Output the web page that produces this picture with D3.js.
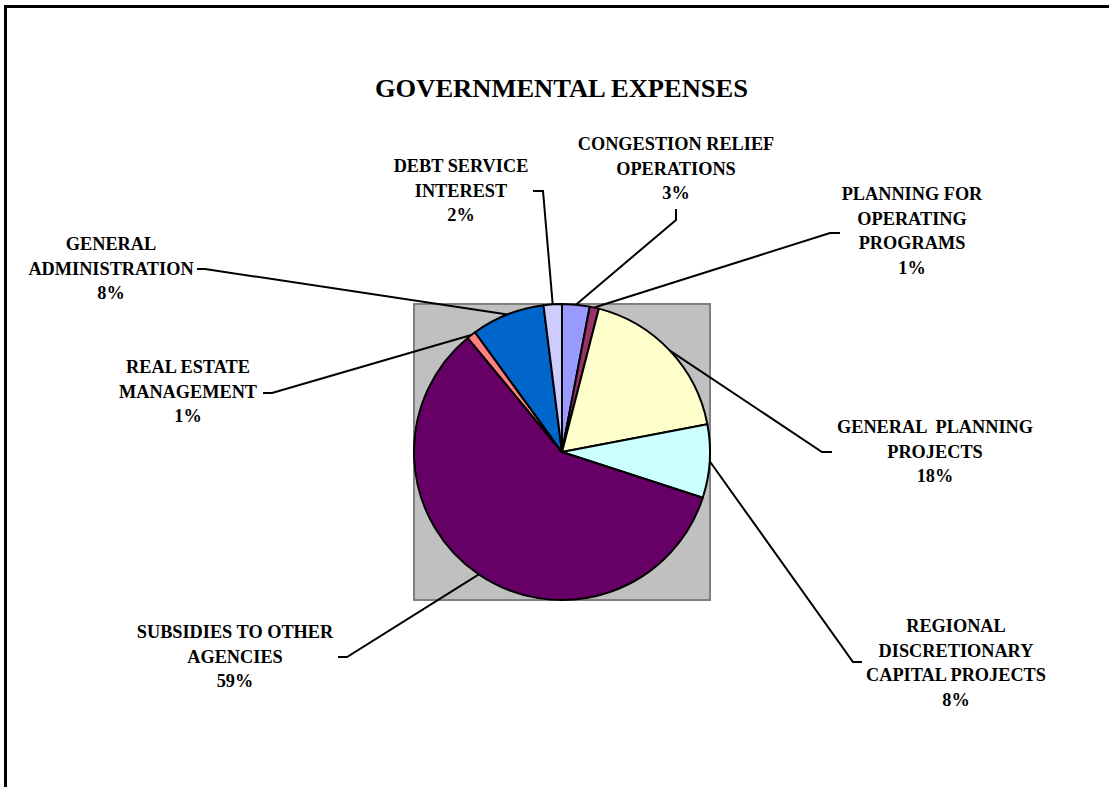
<!DOCTYPE html>
<html>
<head>
<meta charset="utf-8">
<script src="https://cdnjs.cloudflare.com/ajax/libs/d3/7.8.5/d3.min.js"></script>
<style>
  html, body { margin: 0; padding: 0; background: #ffffff; }
  svg { display: block; }
  text { font-family: "Liberation Serif", "Times New Roman", serif; font-weight: bold; fill: #000; }
</style>
</head>
<body>
<svg id="chart" width="1109" height="787"></svg>
<script>
// Governmental expenses, share of total by category (clockwise from 12 o'clock)
const categories = [
  ["CONGESTION RELIEF", "OPERATIONS"],
  ["PLANNING FOR", "OPERATING", "PROGRAMS"],
  ["GENERAL  PLANNING", "PROJECTS"],
  ["REGIONAL", "DISCRETIONARY", "CAPITAL PROJECTS"],
  ["SUBSIDIES TO OTHER", "AGENCIES"],
  ["REAL ESTATE", "MANAGEMENT"],
  ["GENERAL", "ADMINISTRATION"],
  ["DEBT SERVICE", "INTEREST"]
];
const percentValues = [3, 1, 18, 8, 59, 1, 8, 2];
const sliceColors = ["#9999FF", "#993366", "#FFFFCC", "#CCFFFF", "#660066", "#FF8080", "#0066CC", "#CCCCFF"];
const chartTitle = "GOVERNMENTAL EXPENSES";

// Label placement: text centre x, first baseline y, leader elbow and leader end
const labelLayout = [
  { x: 676, y: 150, elbow: [676, 220], end: [676, 209] },
  { x: 912, y: 200, elbow: [830, 233], end: [840, 233] },
  { x: 935, y: 433, elbow: [822, 452], end: [832, 452] },
  { x: 956, y: 632, elbow: [853, 662], end: [862, 662] },
  { x: 235, y: 638, elbow: [347, 657], end: [338, 657] },
  { x: 188, y: 373, elbow: [272, 393], end: [263, 393] },
  { x: 111, y: 250, elbow: [205, 269], end: [197, 269] },
  { x: 461, y: 172, elbow: [543, 191], end: [533, 191] }
];

const svg = d3.select("#chart");
const cx = 562, cy = 452, radius = 148;
const lineGap = 24.6;

// Outer frame (runs off the right and bottom edges)
svg.append("rect")
  .attr("x", 5.5).attr("y", 6.5)
  .attr("width", 1200).attr("height", 900)
  .attr("fill", "none").attr("stroke", "#000").attr("stroke-width", 3);

// Title
svg.append("text")
  .attr("x", 561.5).attr("y", 97)
  .attr("text-anchor", "middle")
  .attr("font-size", 26)
  .attr("textLength", 373).attr("lengthAdjust", "spacingAndGlyphs")
  .text(chartTitle);

// Plot area behind the pie
svg.append("rect")
  .attr("x", cx - radius).attr("y", cy - radius)
  .attr("width", radius * 2).attr("height", radius * 2)
  .attr("fill", "#C0C0C0").attr("stroke", "#808080").attr("stroke-width", 2);

const pie = d3.pie().sort(null).value(d => d).startAngle(0).endAngle(2 * Math.PI);
const arcs = pie(percentValues);
const arc = d3.arc().innerRadius(0).outerRadius(radius);

const g = svg.append("g").attr("transform", `translate(${cx},${cy})`);
g.selectAll("path.slice")
  .data(arcs)
  .join("path")
  .attr("class", "slice")
  .attr("d", arc)
  .attr("fill", (d, i) => sliceColors[i])
  .attr("stroke", "#000")
  .attr("stroke-width", 2)
  .attr("stroke-linejoin", "round");

// Leader lines from the middle of each slice's outer edge
const leaders = svg.append("g");
arcs.forEach((d, i) => {
  const a = (d.startAngle + d.endAngle) / 2;
  const sx = cx + radius * Math.sin(a);
  const sy = cy - radius * Math.cos(a);
  const L = labelLayout[i];
  leaders.append("polyline")
    .attr("points", [[sx, sy], L.elbow, L.end].map(p => p.join(",")).join(" "))
    .attr("fill", "none").attr("stroke", "#000").attr("stroke-width", 2);
});

// Category labels with percentage
const labels = svg.append("g");
arcs.forEach((d, i) => {
  const L = labelLayout[i];
  const lines = categories[i].concat([`${percentValues[i]}%`]);
  const t = labels.append("text")
    .attr("text-anchor", "middle")
    .attr("font-size", 18.3)
    .attr("xml:space", "preserve")
    .style("white-space", "pre");
  lines.forEach((ln, k) => {
    t.append("tspan").attr("x", L.x).attr("y", L.y + k * lineGap).text(ln);
  });
});
</script>
</body>
</html>
